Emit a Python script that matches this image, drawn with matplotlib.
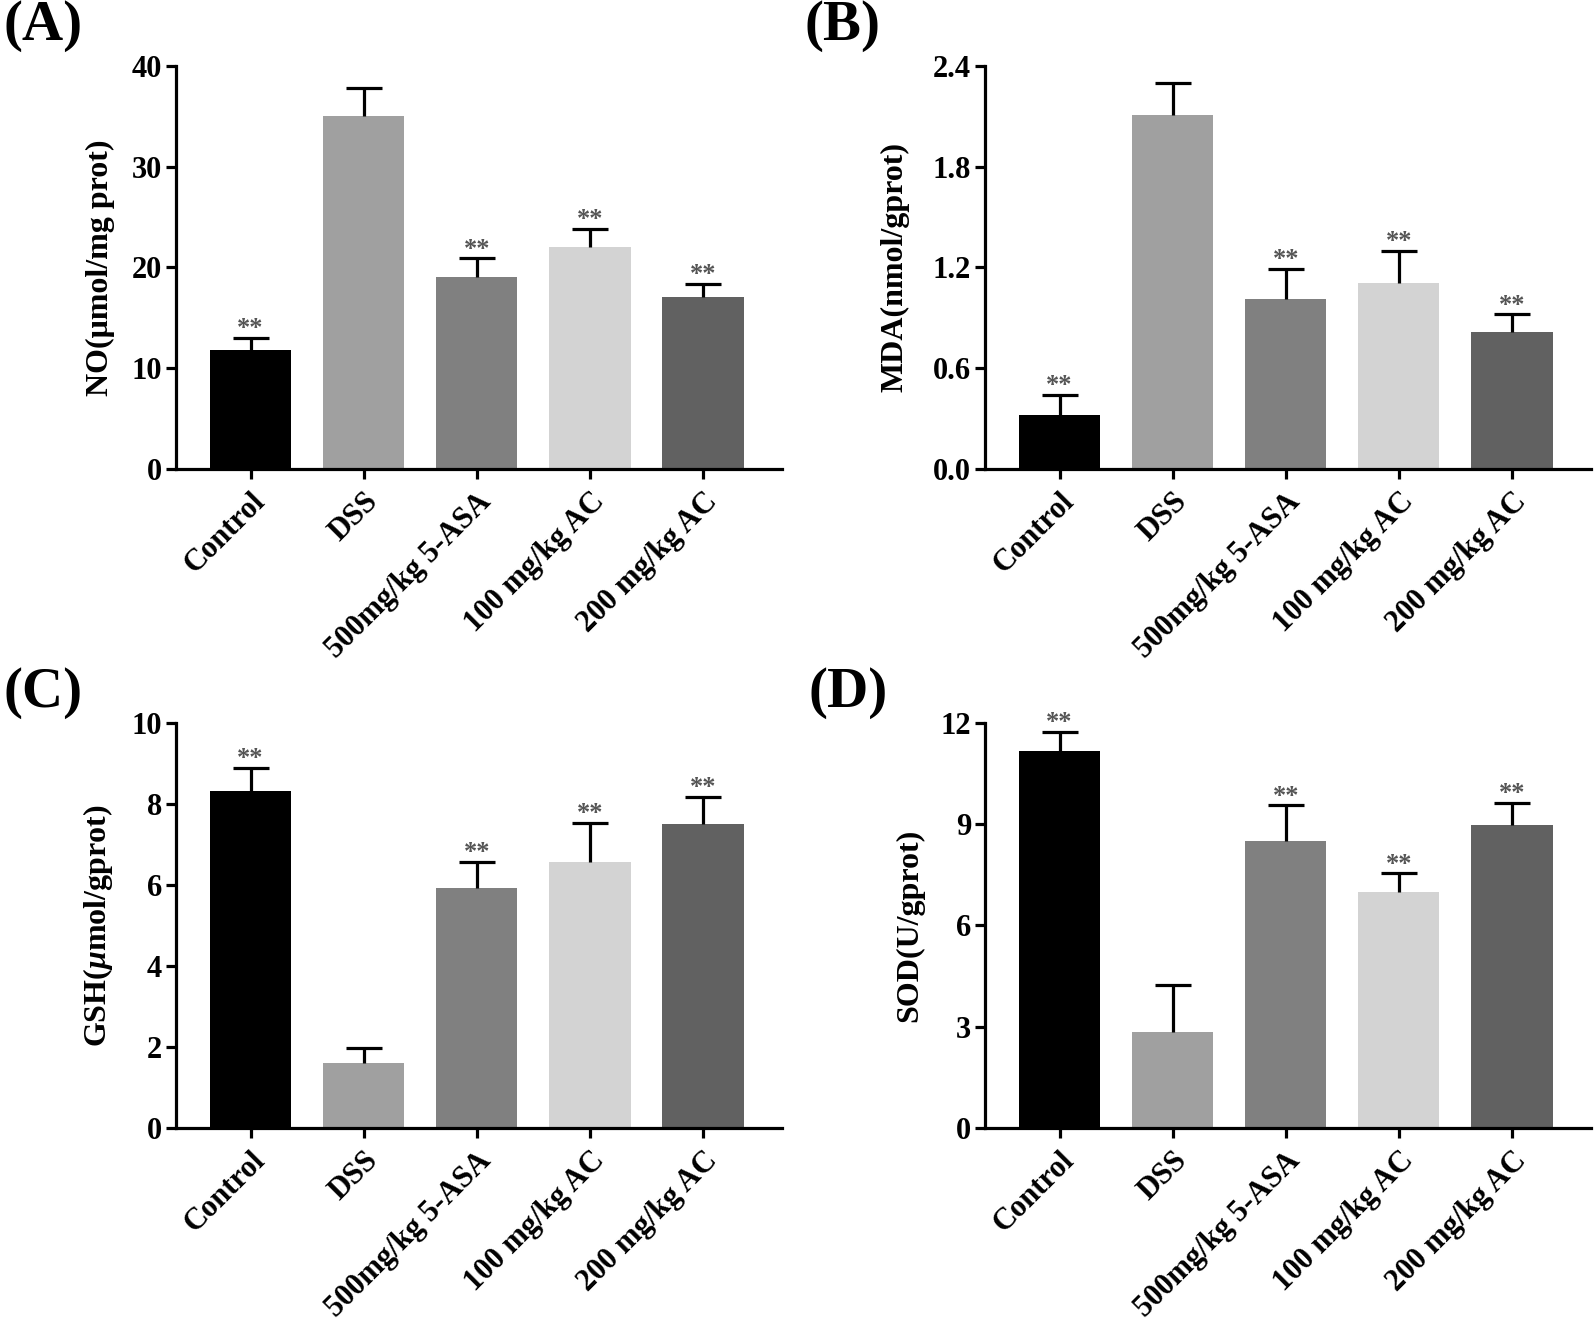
import matplotlib
matplotlib.use('Agg')
import matplotlib.pyplot as plt
import numpy as np

plt.rcParams['font.family'] = ['Liberation Serif', 'DejaVu Serif']
plt.rcParams['font.weight'] = 'bold'
# italic bold mu for the GSH label
plt.rcParams['mathtext.fontset'] = 'custom'
plt.rcParams['mathtext.it'] = 'Liberation Serif:italic:bold'
plt.rcParams['mathtext.rm'] = 'Liberation Serif:bold'

# ----------------- data -----------------
groups = ['Control', 'DSS', '500mg/kg 5-ASA', '100 mg/kg AC', '200 mg/kg AC']
bar_colors = ['#000000', '#a0a0a0', '#808080', '#d3d3d3', '#616161']

no_mean = [11.8, 35.0, 19.1, 22.0, 17.1]
no_sd = [1.2, 2.8, 1.8, 1.8, 1.3]

mda_mean = [0.32, 2.11, 1.01, 1.11, 0.815]
mda_sd = [0.12, 0.19, 0.18, 0.19, 0.105]

gsh_mean = [8.32, 1.60, 5.93, 6.57, 7.51]
gsh_sd = [0.57, 0.38, 0.64, 0.96, 0.66]

sod_mean = [11.17, 2.83, 8.50, 6.98, 8.97]
sod_sd = [0.56, 1.42, 1.06, 0.56, 0.65]

signif = ['**', '', '**', '**', '**']

no_ticks = [0, 10, 20, 30, 40]
mda_ticks = [0.0, 0.6, 1.2, 1.8, 2.4]
gsh_ticks = [0, 2, 4, 6, 8, 10]
sod_ticks = [0, 3, 6, 9, 12]

panels = [
    ('(A)', 'NO(μmol/mg prot)', no_mean, no_sd, no_ticks, '{:.0f}'),
    ('(B)', 'MDA(nmol/gprot)', mda_mean, mda_sd, mda_ticks, '{:.1f}'),
    ('(C)', r'GSH($\mu$mol/gprot)', gsh_mean, gsh_sd, gsh_ticks, '{:.0f}'),
    ('(D)', 'SOD(U/gprot)', sod_mean, sod_sd, sod_ticks, '{:.0f}'),
]

# axes positions (figure fraction) and panel-letter positions
ax_rects = [
    [0.1104, 0.6466, 0.3802, 0.3037],
    [0.6179, 0.6466, 0.3802, 0.3037],
    [0.1104, 0.1500, 0.3802, 0.3052],
    [0.6179, 0.1500, 0.3802, 0.3052],
]
letter_pos = [(0.002, 1.0), (0.505, 1.0), (0.002, 0.497), (0.507, 0.497)]
ylabel_x = [-0.10, -0.125, -0.10, -0.10]

fig = plt.figure(figsize=(15.94, 13.27), dpi=100)
lw = 2.3

for i, (letter, ylab, mean, sd, ticks, fmt) in enumerate(panels):
    ax = fig.add_axes(ax_rects[i])
    x = np.arange(len(groups))
    ax.bar(x, mean, width=0.72, color=bar_colors, edgecolor='none', zorder=2)
    eb = ax.errorbar(x, mean, yerr=[np.zeros(len(mean)), sd], fmt='none',
                     ecolor='black', elinewidth=lw, capsize=13, capthick=lw, zorder=3)
    # only the upper cap is shown
    eb[1][0].set_visible(False)

    for xi, m, s, t in zip(x, mean, sd, signif):
        if t:
            ax.annotate(t, (xi, m + s), xytext=(0, 2), textcoords='offset points',
                        ha='center', va='baseline', fontsize=19, color='#555555')

    ax.set_xlim(-0.66, 4.70)
    ax.set_ylim(ticks[0], ticks[-1])
    ax.set_yticks(ticks)
    ax.set_yticklabels([fmt.format(t) for t in ticks])
    ax.set_xticks(x)
    ax.set_xticklabels(groups, rotation=45, ha='right', rotation_mode='anchor')

    for sp in ['top', 'right']:
        ax.spines[sp].set_visible(False)
    for sp in ['left', 'bottom']:
        ax.spines[sp].set_linewidth(lw)
    ax.tick_params(axis='both', direction='out', length=7, width=lw, labelsize=22)
    ax.tick_params(axis='x', pad=6)
    ax.tick_params(axis='y', pad=3)
    for lab in ax.get_xticklabels() + ax.get_yticklabels():
        lab.set_fontweight('bold')

    ax.set_ylabel(ylab, fontsize=23, fontweight='bold')
    ax.yaxis.set_label_coords(ylabel_x[i], 0.5)

    fig.text(letter_pos[i][0], letter_pos[i][1], letter, fontsize=41,
             fontweight='bold', ha='left', va='top')

fig.savefig('out.png', dpi=100)
